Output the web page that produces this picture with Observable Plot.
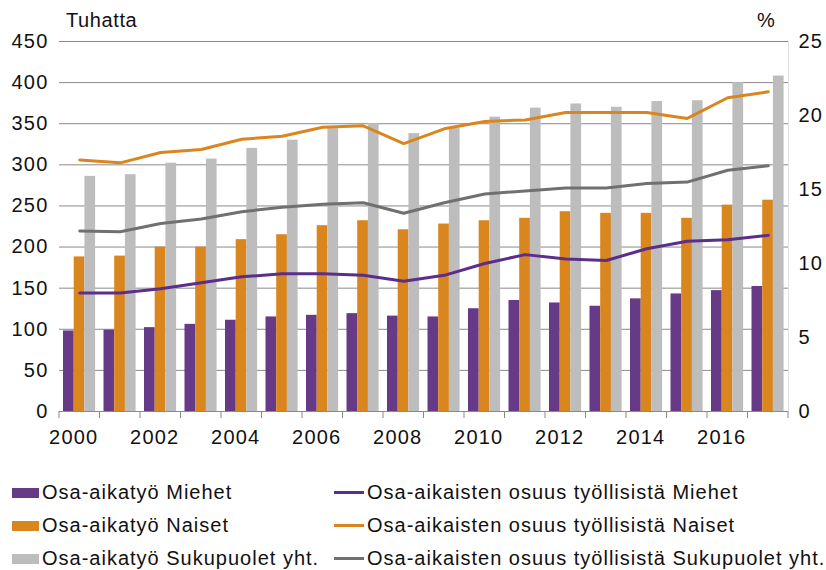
<!DOCTYPE html>
<html>
<head>
<meta charset="utf-8">
<script src="https://cdn.jsdelivr.net/npm/d3@7"></script>
<script src="https://cdn.jsdelivr.net/npm/@observablehq/plot@0.6"></script>
<style>
  body { margin: 0; background: #fff; font-family: "Liberation Sans", Arial, sans-serif; }
  #wrap { position: relative; width: 826px; height: 570px; }
  #chart svg text { letter-spacing: 1.2px; }
  .lg { position: absolute; font-size: 20px; letter-spacing: 1.0px; color: #111; white-space: nowrap; line-height: 20px; }
  .sw { display: inline-block; vertical-align: middle; margin-right: 3px; position: relative; top: -1px; }
  .ttl { position: absolute; font-size: 20px; color: #111; letter-spacing: 0.6px; }
</style>
</head>
<body>
<div id="wrap">
  <div id="chart"></div>
  <div class="ttl" style="left:66px; top:9px;">Tuhatta</div>
  <div class="ttl" style="left:757px; top:9px;">%</div>
  <div id="legend"></div>
</div>
<script>
const years = [2000,2001,2002,2003,2004,2005,2006,2007,2008,2009,2010,2011,2012,2013,2014,2015,2016,2017];
// Part-time workers, thousands
const miehet  = [98, 99, 102, 106, 111, 115, 117, 119, 116, 115, 125, 135, 132, 128, 137, 143, 147, 152];
const naiset  = [188, 189, 200, 200, 209, 215, 226, 232, 221, 228, 232, 235, 243, 241, 241, 235, 251, 257];
const yht     = [286, 288, 302, 307, 320, 330, 344, 350, 338, 344, 358, 369, 374, 370, 377, 378, 400, 408];
// Share of part-timers among employed, %
const osuusMiehet = [8.0, 8.0, 8.3, 8.7, 9.1, 9.3, 9.3, 9.2, 8.8, 9.2, 10.0, 10.6, 10.3, 10.2, 11.0, 11.5, 11.6, 11.9];
const osuusNaiset = [17.0, 16.8, 17.5, 17.7, 18.4, 18.6, 19.2, 19.3, 18.1, 19.1, 19.6, 19.7, 20.2, 20.2, 20.2, 19.8, 21.2, 21.6];
const osuusYht    = [12.2, 12.15, 12.7, 13.0, 13.5, 13.8, 14.0, 14.1, 13.4, 14.1, 14.7, 14.9, 15.1, 15.1, 15.4, 15.5, 16.3, 16.6];
const leftTicks  = [0,50,100,150,200,250,300,350,400,450];
const rightTicks = [0,5,10,15,20,25];
const yearLabels = [2000,2002,2004,2006,2008,2010,2012,2014,2016];

const series = [
  {key: "Miehet", bars: miehet, share: osuusMiehet, barColor: "#663A87", lineColor: "#5C2D8A"},
  {key: "Naiset", bars: naiset, share: osuusNaiset, barColor: "#D9861E", lineColor: "#DA851F"},
  {key: "Sukupuolet yht.", bars: yht, share: osuusYht, barColor: "#BDBDBD", lineColor: "#707070"}
];

const leftMax = 450, rightMax = 25;
const k = leftMax / rightMax;

const barData = [];
const lineData = [];
series.forEach((s, si) => {
  years.forEach((y, i) => {
    barData.push({year: y, value: s.bars[i], series: s.key, idx: si});
    lineData.push({year: y, pct: s.share[i], series: s.key});
  });
});

const bw = 729 / 18;   // band width (px)
const barW = 10.7;
const pad = 4;

const marks = [
  Plot.gridY(leftTicks, {stroke: "#8a8a8a", strokeOpacity: 1, strokeWidth: 1}),
  Plot.axisY(leftTicks, {anchor: "left", tickSize: 0, tickPadding: 11, fontSize: 20, label: null}),
  Plot.axisY(rightTicks.map(d => d * k), {anchor: "right", tickSize: 0, tickPadding: 10, fontSize: 20, label: null, tickFormat: d => String(Math.round(d / k))}),
  Plot.ruleX([years[years.length - 1]], {x: d => d, stroke: "#e2e2e2", dx: bw / 2, y1: 0, y2: leftMax})
];
series.forEach((s, si) => {
  const left = pad + si * barW;
  const right = bw - left - barW;
  marks.push(Plot.barY(barData.filter(d => d.idx === si), {
    x: "year", y: "value", fill: s.barColor, insetLeft: left, insetRight: right
  }));
});
series.forEach(s => {
  marks.push(Plot.lineY(lineData.filter(d => d.series === s.key), {
    x: "year", y: d => d.pct * k, stroke: s.lineColor, strokeWidth: 3, curve: "linear"
  }));
});
marks.push(Plot.ruleY([0], {stroke: "#8a8a8a", strokeWidth: 1}));
marks.push(Plot.axisX({ticks: yearLabels, tickSize: 0, tickPadding: 18, fontSize: 20, dx: -6, label: null, tickFormat: d => String(d)}));

const chart = Plot.plot({
  width: 826,
  height: 460,
  marginLeft: 59,
  marginRight: 38,
  marginTop: 41,
  marginBottom: 49,
  style: {fontFamily: "'Liberation Sans', Arial, sans-serif", color: "#111", background: "#fff"},
  x: {type: "band", domain: years, paddingInner: 0, paddingOuter: 0, align: 0.5, round: false},
  y: {domain: [0, leftMax], range: [411, 41]},
  marks
});
document.getElementById("chart").appendChild(chart);

// Category-separator ticks on the x axis (between years), drawn with d3 from the band scale
const xs = chart.scale("x");
const svg = d3.select(chart);
const sepIdx = d3.range(years.length + 1);
svg.append("g").selectAll("line").data(sepIdx).join("line")
  .attr("x1", i => i < years.length ? xs.apply(years[i]) : xs.apply(years[years.length - 1]) + xs.bandwidth)
  .attr("x2", i => i < years.length ? xs.apply(years[i]) : xs.apply(years[years.length - 1]) + xs.bandwidth)
  .attr("y1", 411).attr("y2", 418)
  .attr("stroke", "#8a8a8a").attr("stroke-width", 1);

// Legend
const legend = document.getElementById("legend");
const rowsY = [482, 515, 548];
series.forEach((s, i) => {
  const a = document.createElement("div");
  a.className = "lg";
  a.style.left = "12px"; a.style.top = rowsY[i] + "px";
  a.innerHTML = `<span class="sw" style="width:27px;height:10px;background:${s.barColor}"></span>Osa-aikatyö ${s.key}`;
  legend.appendChild(a);
  const b = document.createElement("div");
  b.className = "lg";
  b.style.left = "334px"; b.style.top = rowsY[i] + "px";
  b.innerHTML = `<span class="sw" style="width:30px;height:3px;background:${s.lineColor}"></span>Osa-aikaisten osuus työllisistä ${s.key}`;
  legend.appendChild(b);
});
</script>
</body>
</html>
